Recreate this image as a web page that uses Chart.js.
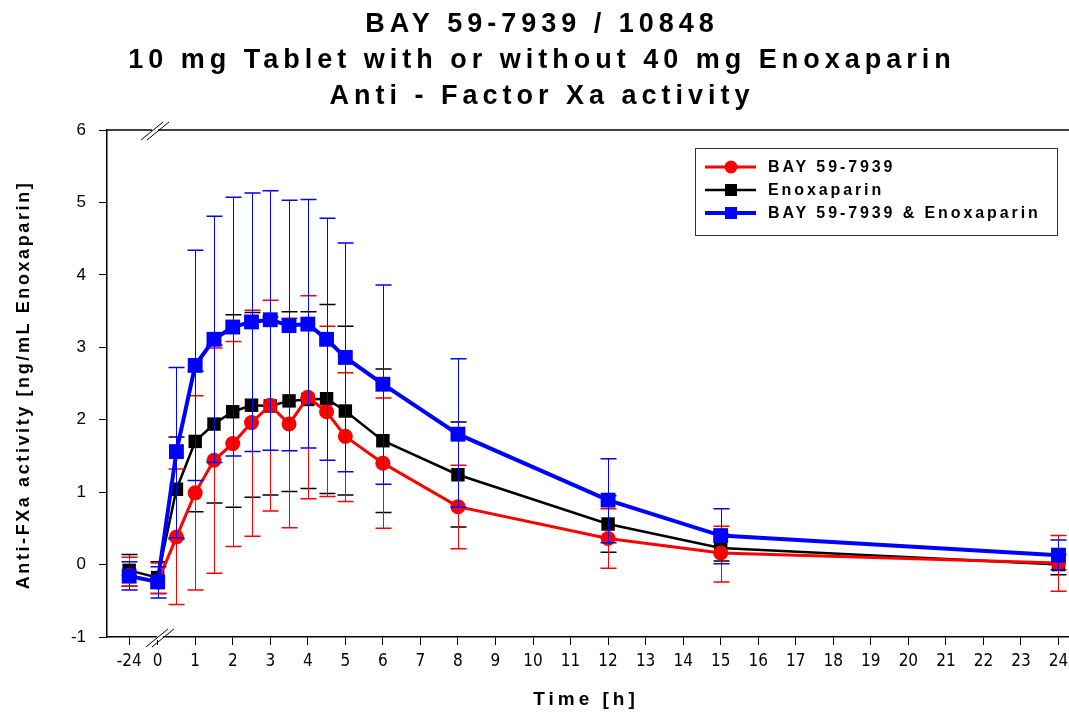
<!DOCTYPE html>
<html>
<head>
<meta charset="utf-8">
<script src="https://cdn.jsdelivr.net/npm/chart.js@4"></script>
<style>
  body { margin: 0; background: #fff; }
  canvas { display: block; }
</style>
</head>
<body>
<canvas id="graphique" width="1069" height="716"></canvas>
<script>
// Temps de prelevement (h), -24 = avant dose
const temps = [-24, 0, 0.5, 1, 1.5, 2, 2.5, 3, 3.5, 4, 4.5, 5, 6, 8, 12, 15, 24];
const xTicks = [-24, 0, 1, 2, 3, 4, 5, 6, 7, 8, 9, 10, 11, 12, 13, 14, 15, 16, 17, 18, 19, 20, 21, 22, 23, 24];
const yTicks = [-1, 0, 1, 2, 3, 4, 5, 6];

// BAY 59-7939 seul
const bay = [-0.15, -0.24, 0.38, 0.99, 1.44, 1.67, 1.96, 2.20, 1.94, 2.31, 2.11, 1.77, 1.40, 0.80, 0.36, 0.16, 0.02];
const bayBas = [-0.30, -0.40, -0.55, -0.35, -0.12, 0.25, 0.39, 0.74, 0.51, 0.91, 0.94, 0.87, 0.50, 0.22, -0.05, -0.24, -0.37];
const bayHaut = [0.10, 0.02, 1.32, 2.33, 2.99, 3.08, 3.51, 3.65, 3.40, 3.71, 3.29, 2.65, 2.30, 1.37, 0.77, 0.53, 0.40];

// Enoxaparin seul
const enox = [-0.08, -0.18, 1.04, 1.70, 1.94, 2.11, 2.20, 2.19, 2.26, 2.28, 2.29, 2.12, 1.71, 1.24, 0.56, 0.23, 0.00];
const enoxBas = [-0.30, -0.40, 0.35, 0.73, 0.85, 0.79, 0.93, 0.96, 1.01, 1.05, 0.98, 0.96, 0.72, 0.52, 0.17, 0.05, -0.14];
const enoxHaut = [0.14, 0.04, 1.76, 2.67, 3.03, 3.45, 3.48, 3.42, 3.49, 3.49, 3.59, 3.29, 2.70, 1.97, 0.95, 0.42, 0.14];

// BAY 59-7939 & Enoxaparin
const combi = [-0.16, -0.24, 1.56, 2.75, 3.11, 3.28, 3.35, 3.38, 3.30, 3.32, 3.11, 2.86, 2.49, 1.80, 0.89, 0.40, 0.13];
const combiBas = [-0.35, -0.46, 0.37, 1.16, 1.41, 1.50, 1.56, 1.58, 1.57, 1.61, 1.44, 1.28, 1.11, 0.79, 0.30, 0.01, -0.07];
const combiHaut = [0.04, -0.03, 2.72, 4.34, 4.81, 5.07, 5.13, 5.16, 5.03, 5.04, 4.78, 4.44, 3.86, 2.84, 1.46, 0.77, 0.34];

const titres = ["BAY 59-7939 / 10848", "10 mg Tablet with or without 40 mg Enoxaparin", "Anti - Factor Xa activity"];

// -24 h est place juste avant 0 (axe coupe)
function pos(t) {
    return t < 0 ? -0.76 : t;
}
function points(valeurs) {
    return temps.map((t, i) => ({ x: pos(t), y: valeurs[i] }));
}

const police = "'Liberation Sans', Arial, sans-serif";

// Barres d'erreur dessinees apres chaque serie
const barresErreur = {
    id: 'barresErreur',
    afterDatasetDraw(chart, args) {
        const ds = chart.data.datasets[args.index];
        const ctx = chart.ctx;
        const x = chart.scales.x, y = chart.scales.y;
        ctx.save();
        ctx.strokeStyle = ds.borderColor;
        ctx.lineWidth = 1;
        temps.forEach((t, i) => {
            const px = Math.round(x.getPixelForValue(pos(t))) + 0.5;
            const yb = y.getPixelForValue(ds.bas[i]);
            const yh = y.getPixelForValue(ds.haut[i]);
            ctx.beginPath();
            ctx.moveTo(px, yb);
            ctx.lineTo(px, yh);
            ctx.stroke();
            ctx.lineWidth = 1.5;
            ctx.beginPath();
            ctx.moveTo(px - 8, yb); ctx.lineTo(px + 8, yb);
            ctx.moveTo(px - 8, yh); ctx.lineTo(px + 8, yh);
            ctx.stroke();
            ctx.lineWidth = 1;
        });
        ctx.restore();
    }
};

// Titres, cadre du haut, coupures d'axe et legende
const decor = {
    id: 'decor',
    afterDraw(chart) {
        const ctx = chart.ctx;
        const a = chart.chartArea;
        const x = chart.scales.x;
        ctx.save();
        // ligne du haut
        ctx.strokeStyle = '#000';
        ctx.lineWidth = 1.5;
        ctx.beginPath();
        ctx.moveTo(a.left, a.top);
        ctx.lineTo(a.right, a.top);
        ctx.stroke();

        // coupures //
        const coupures = [[x.getPixelForValue(-0.07), a.top], [x.getPixelForValue(0.06), a.bottom]];
        coupures.forEach(([cx, cy]) => {
            ctx.fillStyle = '#fff';
            ctx.fillRect(cx - 3, cy - 3, 6, 6);
            ctx.strokeStyle = '#000';
            ctx.lineWidth = 1;
            ctx.beginPath();
            ctx.moveTo(cx - 14, cy + 10); ctx.lineTo(cx + 8, cy - 8);
            ctx.moveTo(cx - 8, cy + 10); ctx.lineTo(cx + 14, cy - 8);
            ctx.stroke();
        });

        // titre
        ctx.fillStyle = '#000';
        ctx.textAlign = 'center';
        ctx.textBaseline = 'alphabetic';
        ctx.font = "bold 27px " + police;
        ctx.letterSpacing = '5px';
        titres.forEach((t, i) => ctx.fillText(t, 542, 32 + i * 36));

        // titre axe x
        ctx.font = "bold 19px " + police;
        ctx.letterSpacing = '4px';
        ctx.fillText("Time [h]", 586, 705);

        // titre axe y
        ctx.save();
        ctx.translate(29, 385);
        ctx.rotate(-Math.PI / 2);
        ctx.font = "bold 18px " + police;
        ctx.letterSpacing = '2.6px';
        ctx.fillText("Anti-FXa activity [ng/mL Enoxaparin]", 0, 0);
        ctx.restore();

        // legende
        ctx.letterSpacing = '0px';
        ctx.strokeStyle = '#333';
        ctx.lineWidth = 1;
        ctx.strokeRect(695.5, 148.5, 362, 87);
        ctx.font = "bold 16px " + police;
        ctx.letterSpacing = '2.9px';
        ctx.textAlign = 'left';
        ctx.textBaseline = 'middle';
        chart.data.datasets.forEach((ds, i) => {
            const ly = 167 + i * 23;
            ctx.strokeStyle = ds.borderColor;
            ctx.lineWidth = ds.borderWidth;
            ctx.beginPath();
            ctx.moveTo(705, ly); ctx.lineTo(756, ly);
            ctx.stroke();
            ctx.fillStyle = ds.borderColor;
            if (ds.pointStyle === 'circle') {
                ctx.beginPath();
                ctx.arc(731, ly, 6.5, 0, Math.PI * 2);
                ctx.fill();
            } else {
                ctx.fillRect(725, ly - 6, 12, 12);
            }
            ctx.fillStyle = '#000';
            ctx.fillText(ds.label, 768, ly + 1);
        });
        ctx.restore();
    }
};

const ctx = document.getElementById('graphique').getContext('2d');
const chart = new Chart(ctx, {
    type: 'line',
    data: {
        datasets: [{
            label: 'BAY 59-7939',
            data: points(bay),
            bas: bayBas,
            haut: bayHaut,
            borderColor: 'rgb(255, 0, 0)',
            backgroundColor: 'rgb(255, 0, 0)',
            borderWidth: 3,
            pointStyle: 'circle',
            pointRadius: 7.5,
            pointBorderWidth: 0,
            order: 1
        }, {
            label: 'Enoxaparin',
            data: points(enox),
            bas: enoxBas,
            haut: enoxHaut,
            borderColor: 'rgb(0, 0, 0)',
            backgroundColor: 'rgb(0, 0, 0)',
            borderWidth: 2.5,
            pointStyle: 'rect',
            pointRadius: 9.5,
            pointBorderWidth: 0,
            order: 2
        }, {
            label: 'BAY 59-7939 & Enoxaparin',
            data: points(combi),
            bas: combiBas,
            haut: combiHaut,
            borderColor: 'rgb(0, 0, 255)',
            backgroundColor: 'rgb(0, 0, 255)',
            borderWidth: 4,
            pointStyle: 'rect',
            pointRadius: 10.5,
            pointBorderWidth: 0,
            order: 0
        }]
    },
    options: {
        responsive: false,
        animation: false,
        devicePixelRatio: 1,
        layout: { autoPadding: false, padding: { top: 130, right: 0, bottom: 0, left: 0 } },
        plugins: {
            legend: { display: false },
            tooltip: { enabled: false }
        },
        scales: {
            x: {
                type: 'linear',
                min: -1.35,
                max: 24.28,
                afterBuildTicks(scale) {
                    scale.ticks = xTicks.map(t => ({ value: pos(t) }));
                },
                afterFit(scale) {
                    scale.height = 79;
                    scale.paddingLeft = 0;
                    scale.paddingRight = 0;
                },
                ticks: {
                    autoSkip: false,
                    maxRotation: 0,
                    padding: 6,
                    color: '#000',
                    font: { family: "'Liberation Sans Narrow', 'DejaVu Sans Condensed', 'Liberation Sans', sans-serif", size: 17 },
                    callback: (v) => v < 0 ? '-24' : String(v)
                },
                grid: { drawOnChartArea: false, drawTicks: true, tickLength: 8, color: '#000', lineWidth: 1 },
                border: { display: true, color: '#000', width: 1.5 }
            },
            y: {
                min: -1,
                max: 6,
                afterBuildTicks(scale) {
                    scale.ticks = yTicks.map(v => ({ value: v }));
                },
                afterFit(scale) {
                    scale.width = 107;
                },
                ticks: {
                    padding: 13,
                    color: '#000',
                    font: { family: police, size: 17 }
                },
                grid: { drawOnChartArea: false, drawTicks: true, tickLength: 8, color: '#000', lineWidth: 1 },
                border: { display: true, color: '#000', width: 1.5 }
            }
        }
    },
    plugins: [barresErreur, decor]
});
</script>
</body>
</html>
